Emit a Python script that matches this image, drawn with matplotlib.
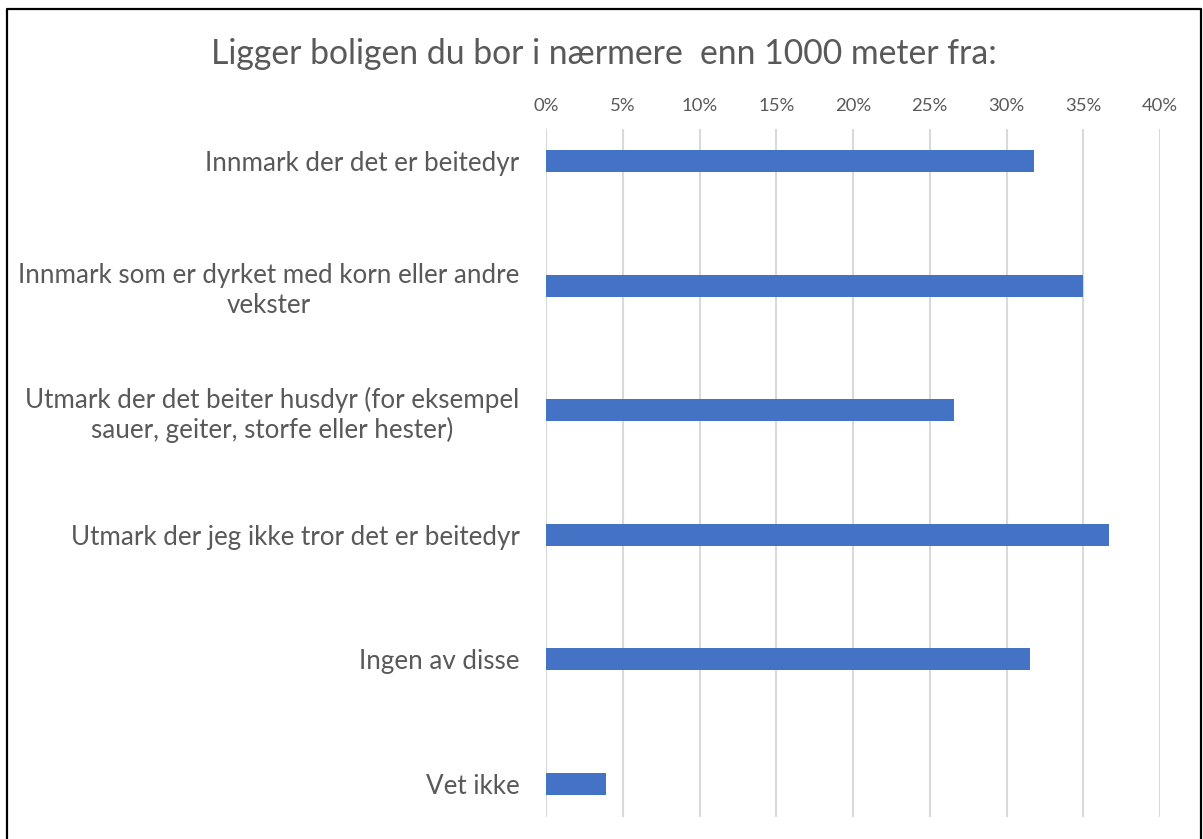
import matplotlib
matplotlib.use('Agg')
from matplotlib import pyplot as plt
from matplotlib.lines import Line2D

categories = [
    'Innmark der det er beitedyr',
    'Innmark som er dyrket med korn eller andre\nvekster',
    'Utmark der det beiter husdyr (for eksempel\nsauer, geiter, storfe eller hester)',
    'Utmark der jeg ikke tror det er beitedyr',
    'Ingen av disse',
    'Vet ikke',
]
values = [31.8, 35.0, 26.6, 36.7, 31.5, 3.9]
ticks = [0, 5, 10, 15, 20, 25, 30, 35, 40]
tick_labels = ['0%', '5%', '10%', '15%', '20%', '25%', '30%', '35%', '40%']
title = 'Ligger boligen du bor i nærmere  enn 1000 meter fra:'

plt.rcParams['font.family'] = ['Lato', 'DejaVu Sans']
text_grey = '#595959'

fig = plt.figure(figsize=(12.03, 8.39), dpi=100)
W, H = 1203, 839
ax = fig.add_axes([546 / W, 1 - 817 / H, (1160 - 546) / W, (817 - 129) / H])

pos = list(range(len(categories)))
ax.barh(pos, values, height=0.177, color='#4472C4', zorder=3)

ax.set_xlim(0, 40)
ax.set_ylim(5.265, -0.257)
ax.set_xticks(ticks)
ax.set_xticklabels(tick_labels, fontsize=13.3, color=text_grey)
ax.xaxis.tick_top()
ax.tick_params(axis='x', length=0, pad=11)
ax.set_yticks(pos)
ax.set_yticklabels(categories, fontsize=18.7, color=text_grey,
                   multialignment='center', linespacing=1.22)
ax.tick_params(axis='y', length=0, pad=19)
ax.grid(axis='x', color='#D9D9D9', linewidth=1.5, zorder=0)
for s in ax.spines.values():
    s.set_visible(False)

fig.text(604 / W, 1 - 54 / H, title, fontsize=24.3, color=text_grey,
         ha='center', va='center')

# frame round the picture (no bottom edge)
bx = [7 / W, 7 / W, 1201 / W, 1201 / W]
by = [0, 1 - 9 / H, 1 - 9 / H, 0]
fig.add_artist(Line2D(bx, by, color='black', linewidth=1.6, transform=fig.transFigure))

fig.savefig('out.png', dpi=100, facecolor='white')
